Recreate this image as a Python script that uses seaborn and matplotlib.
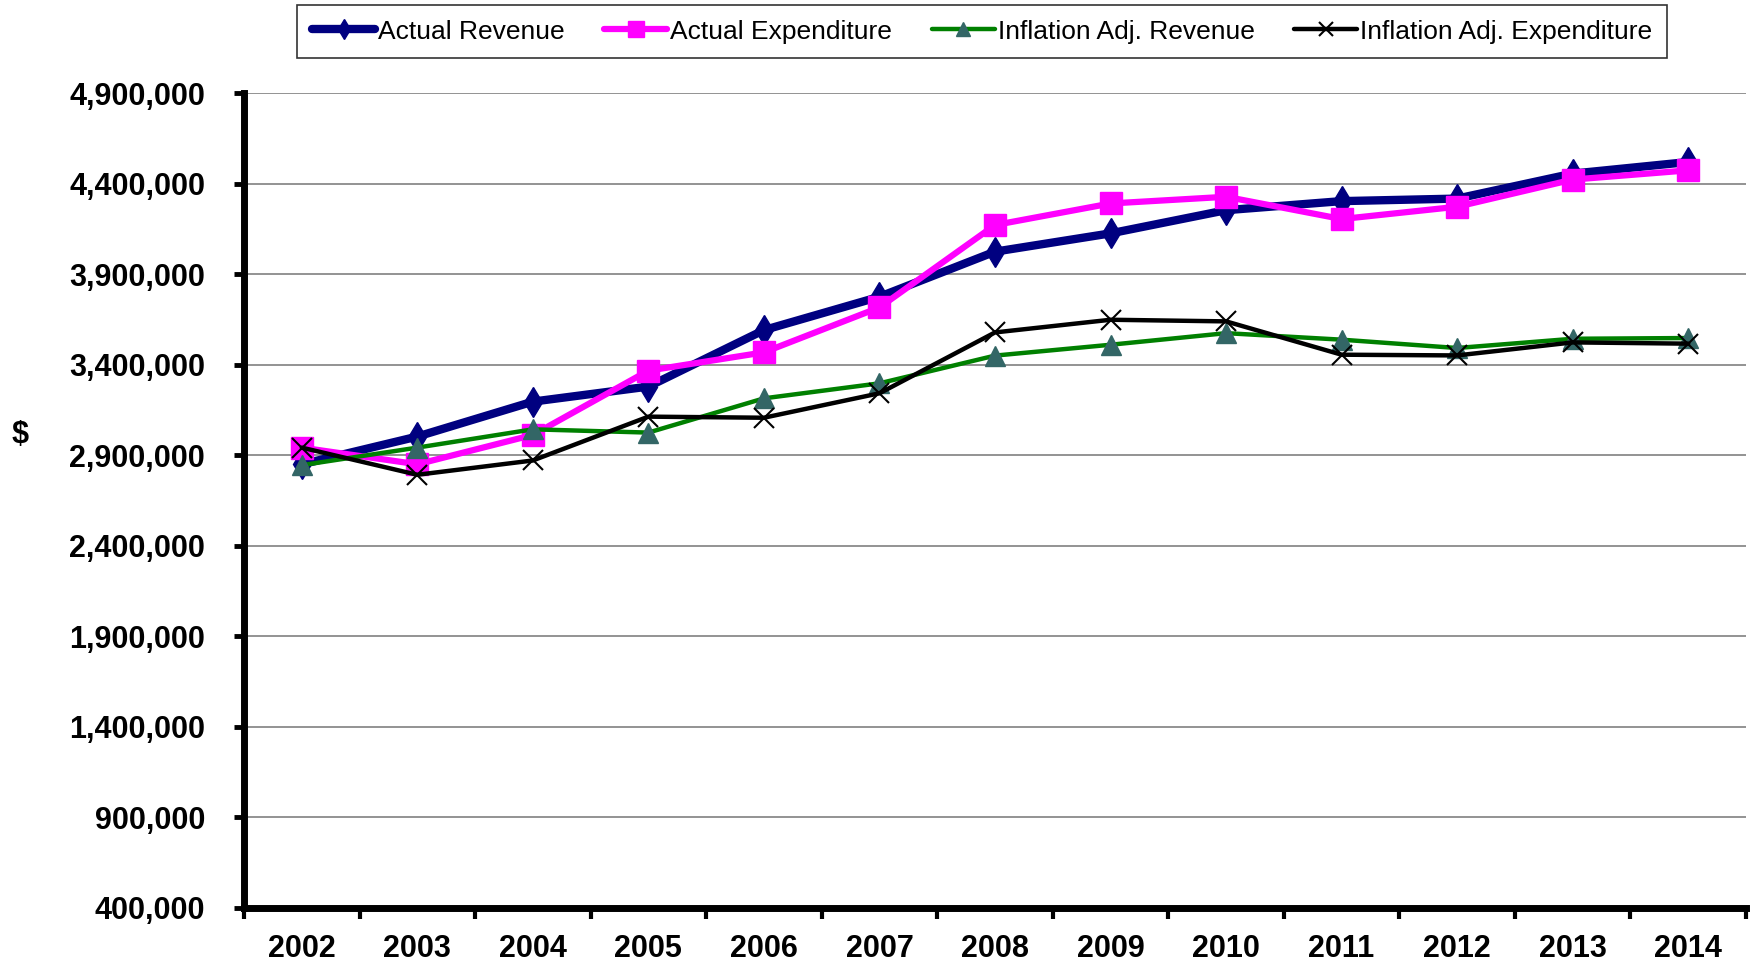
import matplotlib
matplotlib.use('Agg')
import matplotlib.pyplot as plt
import matplotlib.ticker as mticker
import numpy as np
import pandas as pd
import seaborn as sns

# ── Data ──────────────────────────────────────────────────────────────────────
years = ['2002', '2003', '2004', '2005', '2006', '2007', '2008',
         '2009', '2010', '2011', '2012', '2013', '2014']
actual_revenue = [2850000, 3003000, 3196000, 3279000, 3591000, 3775000, 4024000,
                  4125000, 4253000, 4303000, 4317000, 4455000, 4519000]
actual_expenditure = [2942000, 2850000, 3012000, 3367000, 3468000, 3716000, 4171000,
                      4290000, 4327000, 4204000, 4272000, 4422000, 4473000]
infl_adj_revenue = [2845000, 2942000, 3043000, 3025000, 3214000, 3297000, 3450000,
                    3510000, 3574000, 3538000, 3492000, 3543000, 3547000]
infl_adj_expenditure = [2942000, 2792000, 2871000, 3113000, 3107000, 3242000, 3578000,
                        3648000, 3639000, 3455000, 3451000, 3523000, 3516000]
y_ticks = [400000, 900000, 1400000, 1900000, 2400000, 2900000,
           3400000, 3900000, 4400000, 4900000]

df = pd.DataFrame({
    'pos': np.arange(len(years)),
    'Actual Revenue': actual_revenue,
    'Actual Expenditure': actual_expenditure,
    'Inflation Adj. Revenue': infl_adj_revenue,
    'Inflation Adj. Expenditure': infl_adj_expenditure,
})

sns.set_style('white')
plt.rcParams['font.family'] = ['Liberation Sans', 'DejaVu Sans']
plt.rcParams['text.color'] = 'black'
plt.rcParams['xtick.color'] = 'black'
plt.rcParams['ytick.color'] = 'black'

fig = plt.figure(figsize=(17.5, 9.65), dpi=100)
ax = fig.add_axes([244 / 1750, 1 - 908 / 965, 1502 / 1750, 815 / 965])

# series styles: (column, line colour, line width, marker, marker size, marker face, marker edge)
styles = [
    ('Actual Revenue', '#000080', 6.0, 'd', 15, '#000080', '#000080', 1),
    ('Actual Expenditure', '#FF00FF', 4.5, 's', 16, '#FF00FF', '#FF00FF', 1),
    ('Inflation Adj. Revenue', '#008000', 3.2, '^', 14, '#336666', '#336666', 1),
    ('Inflation Adj. Expenditure', '#000000', 3.2, 'x', 14, '#000000', '#000000', 1.5),
]
for col, c, lw, mk, ms, mfc, mec, mew in styles:
    sns.lineplot(data=df, x='pos', y=col, ax=ax, color=c, linewidth=lw,
                 marker=mk, markersize=ms, markerfacecolor=mfc,
                 markeredgecolor=mec, markeredgewidth=mew, label=col)

ax.set_xlim(-0.5, len(years) - 0.5)
ax.set_ylim(400000, 4900000)
ax.set_yticks(y_ticks)
ax.yaxis.set_major_formatter(mticker.FuncFormatter(lambda v, p: f'{int(v):,}'))
ax.set_xticks(df['pos'])
ax.set_xticklabels(years)
ax.set_xticks(np.arange(-0.5, len(years)), minor=True)

# horizontal gridlines
for yv in y_ticks[1:]:
    ax.axhline(yv, color='#808080', linewidth=1.2, zorder=0)

for side in ['top', 'right']:
    ax.spines[side].set_visible(False)
for side in ['left', 'bottom']:
    ax.spines[side].set_linewidth(5)
    ax.spines[side].set_color('black')

ax.tick_params(axis='y', which='major', left=True, direction='out', length=7, width=3.5,
               pad=21, labelsize=22, labelcolor='black', color='black')
ax.tick_params(axis='x', which='major', bottom=True, length=0, pad=19, labelsize=22,
               labelcolor='black')
ax.tick_params(axis='x', which='minor', bottom=True, direction='out', length=8, width=3,
               color='black')
for lbl in ax.get_xticklabels() + ax.get_yticklabels():
    lbl.set_fontweight('bold')

ax.set_xlabel('')
ax.set_ylabel('')
fig.text(20 / 1750, 1 - 435 / 965, '$', fontsize=22, fontweight='bold',
         ha='center', va='center', color='black')

ax.get_legend().remove()
handles, labels = ax.get_legend_handles_labels()
leg = fig.legend(handles, labels, loc='upper center', ncol=4,
                 bbox_to_anchor=(982 / 1750, 1 - 5 / 965), fontsize=19,
                 frameon=True, fancybox=False, edgecolor='black',
                 handlelength=2.4, handletextpad=0.1, columnspacing=1.5,
                 borderpad=0.55, borderaxespad=0, numpoints=1, markerscale=0.7)
leg.get_frame().set_linewidth(1.2)
for t in leg.get_texts():
    t.set_color('black')

plt.savefig('out.png', dpi=100)
plt.close(fig)
